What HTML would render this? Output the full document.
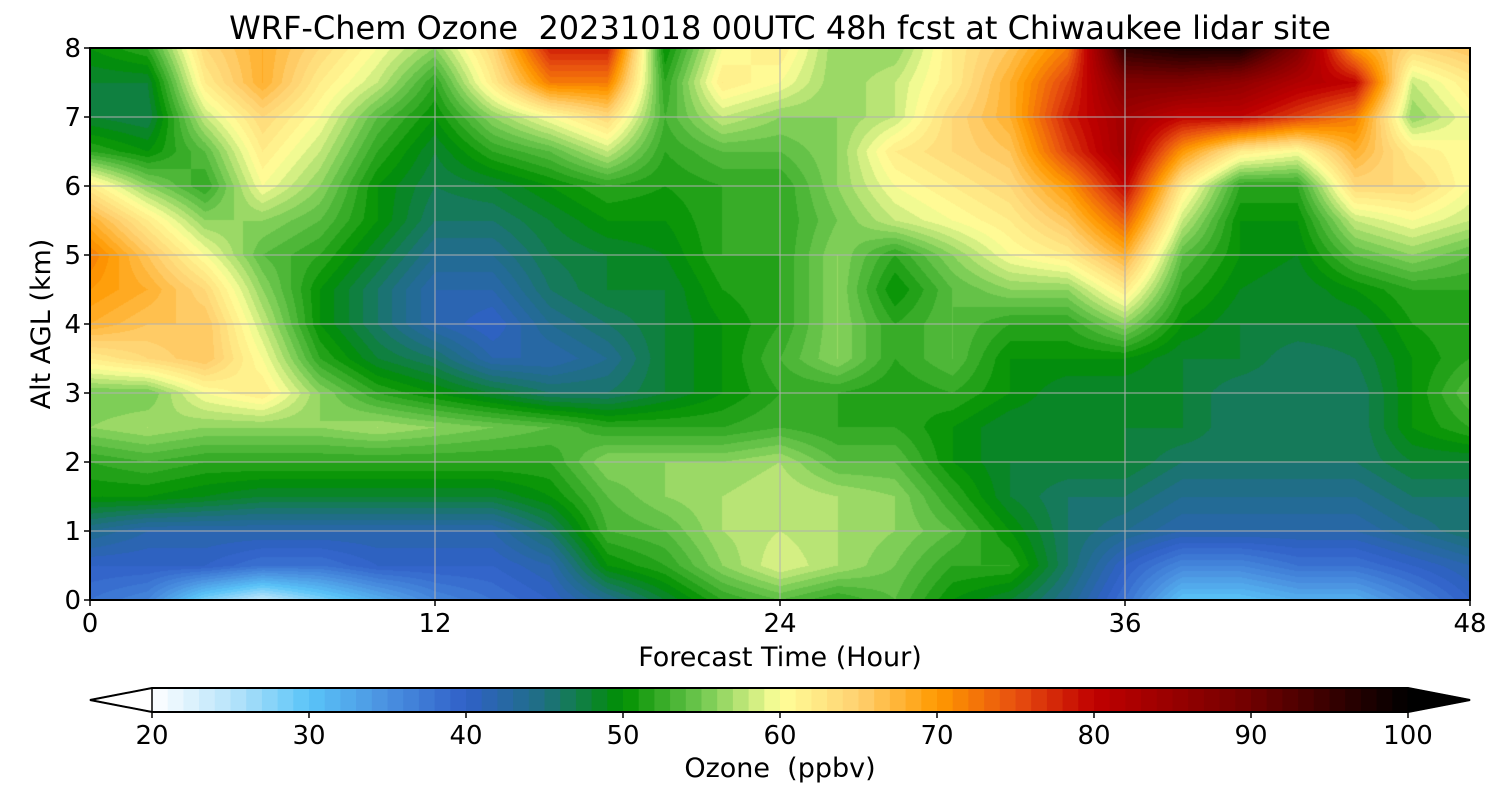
<!DOCTYPE html>
<html><head><meta charset="utf-8">
<style>
body{margin:0;background:#fff;width:1500px;height:800px;overflow:hidden;font-family:"DejaVu Sans","Liberation Sans",sans-serif;}
#root{position:relative;width:1500px;height:800px;}
canvas{position:absolute;left:0;top:0;}
svg{position:absolute;left:0;top:0;}
</style></head><body>
<div id="root">
<canvas id="cv" width="1500" height="800"></canvas>
<svg id="sv" width="1500" height="800"></svg>
</div>
<script>
// ---- data ----
const hours = [0,2,4,6,8,10,12,14,16,18,20,22,24,26,28,30,32,34,36,38,40,42,44,46,48];
const altitudes = [0,0.5,1,1.5,2,2.5,3,3.5,4,4.5,5,5.5,6,6.5,7,7.5,8];
const ozone = [
[38,40,44,50,52,56,55,62,68,70,72,68,62,52,48,48,50],
[36,40,42,50,53,57,55,64,66,68,66,62,56,50,47,48,52],
[28,40,42,49,52,56,60,66,66,64,60,56,52,54,58,62,64],
[24,38,42,48,52,56,62,60,58,56,54,56,60,62,64,68,68],
[28,38,42,48,52,56,56,52,50,50,52,54,56,58,60,62,64],
[32,40,42,48,52,57,52,48,46,46,48,50,50,52,54,58,60],
[36,40,42,48,52,56,50,46,42,42,44,46,47,48,50,52,56],
[38,40,42,48,52,55,48,42,40,42,44,46,48,52,56,62,64],
[40,42,46,50,52,54,46,42,44,46,47,48,50,54,60,72,78],
[44,50,53,54,56,52,46,44,46,48,48,50,52,58,64,72,78],
[48,52,54,56,56,52,48,48,48,48,49,50,51,52,53,52,50],
[52,56,57,57,56,52,50,50,50,51,52,52,52,54,58,62,60],
[54,59,58,58,57,53,52,53,52,52,52,52,52,54,56,60,62],
[52,57,57,57,54,52,52,56,56,56,56,55,56,56,56,56,56],
[54,55,56,56,54,52,51,52,52,50,52,58,60,62,58,58,56],
[50,52,54,52,50,50,52,54,54,54,56,60,62,64,64,62,62],
[48,52,50,48,48,48,50,50,52,56,60,62,64,66,68,68,66],
[44,46,46,46,48,48,48,50,52,56,62,66,70,76,78,76,72],
[38,40,44,46,48,48,48,50,56,62,68,74,80,84,84,88,96],
[30,36,42,44,46,48,48,48,50,52,54,58,62,70,80,88,98],
[30,36,42,44,46,46,46,48,48,49,50,50,52,62,80,86,98],
[32,38,42,44,46,46,46,46,48,48,49,50,52,60,76,82,88],
[32,38,42,44,46,46,46,47,48,50,54,58,64,68,72,80,70],
[36,40,44,46,48,50,50,50,51,52,56,60,64,62,56,58,64],
[40,42,46,46,48,52,54,52,52,52,54,58,60,60,60,62,66]
];
const xTicks = [0,12,24,36,48];
const yTicks = [0,1,2,3,4,5,6,7,8];
const cbTicks = [20,30,40,50,60,70,80,90,100];
// colormap stops
const cmVals = [20,25,30,35,40,45,50,55,60,65,70,75,80,90,100];
const cmCols = ["#ffffff","#b8e4fa","#5ac4f8","#4a90e0","#3060c8","#1e7080","#009000","#70c850","#ffff99","#ffd070","#ff9a00","#e85010","#c00000","#700000","#000000"];

// ---- geometry ----
const PX0=90,PX1=1470,PY0=48,PY1=600;
const xs = h => PX0 + (h/48)*(PX1-PX0);
const ys = a => PY1 - (a/8)*(PY1-PY0);
const CB0=152,CB1=1408,CBY0=688,CBY1=712;
const cbx = v => CB0 + (v-20)/80*(CB1-CB0);

function hex(c){return [parseInt(c.slice(1,3),16),parseInt(c.slice(3,5),16),parseInt(c.slice(5,7),16)];}
const cmRGB = cmCols.map(hex);
function color(v){
  v=Math.max(20,Math.min(100,v));
  for(let i=0;i<cmVals.length-1;i++){
    if(v<=cmVals[i+1]){
      const t=(v-cmVals[i])/(cmVals[i+1]-cmVals[i]);
      const a=cmRGB[i],b=cmRGB[i+1];
      return [a[0]+(b[0]-a[0])*t,a[1]+(b[1]-a[1])*t,a[2]+(b[2]-a[2])*t].map(Math.round);
    }
  }
  return cmRGB[cmRGB.length-1];
}
function sample(h,a){
  let i=0; while(i<hours.length-2 && h>hours[i+1]) i++;
  let j=0; while(j<altitudes.length-2 && a>altitudes[j+1]) j++;
  const tx=(h-hours[i])/(hours[i+1]-hours[i]);
  const ty=(a-altitudes[j])/(altitudes[j+1]-altitudes[j]);
  const v00=ozone[i][j],v10=ozone[i+1][j],v01=ozone[i][j+1],v11=ozone[i+1][j+1];
  return (v00*(1-tx)+v10*tx)*(1-ty)+(v01*(1-tx)+v11*tx)*ty;
}
const cv=document.getElementById('cv');
const ctx=cv.getContext('2d');
const W=PX1-PX0,H=PY1-PY0;
const img=ctx.createImageData(W,H);
for(let y=0;y<H;y++){
  const a=(H-0.5-y)/H*8;
  for(let x=0;x<W;x++){
    const h=(x+0.5)/W*48;
    const v=Math.floor(sample(h,a));
    const c=color(v+0.5);
    const k=(y*W+x)*4;
    img.data[k]=c[0];img.data[k+1]=c[1];img.data[k+2]=c[2];img.data[k+3]=255;
  }
}
ctx.putImageData(img,PX0,PY0);

// ---- svg overlay ----
const NS="http://www.w3.org/2000/svg";
const sv=document.getElementById('sv');
const FF='DejaVu Sans, Liberation Sans, sans-serif';
function mk(tag,attrs,parent){const e=document.createElementNS(NS,tag);for(const k in attrs)e.setAttribute(k,attrs[k]);(parent||sv).appendChild(e);return e;}
function txt(s,attrs){const e=mk('text',Object.assign({'font-family':FF,fill:'#000'},attrs));e.textContent=s;return e;}

// grid
xTicks.forEach(t=>{
  const l=mk('line',{x1:xs(t),x2:xs(t),y1:PY0,y2:PY1,stroke:'#b0b0b0','stroke-width':1});
  
  
});
yTicks.forEach(t=>{
  const l=mk('line',{x1:PX0,x2:PX1,y1:ys(t),y2:ys(t),stroke:'#b0b0b0','stroke-width':1});
  
  
});
// frame
const fr=mk('rect',{x:PX0,y:PY0,width:W,height:H,fill:'none',stroke:'#000','stroke-width':2});


// ticks
xTicks.forEach(t=>{
  mk('line',{x1:xs(t),x2:xs(t),y1:PY1,y2:PY1+6,stroke:'#000','stroke-width':1.5});
  const e=txt(String(t),{x:xs(t),y:632,'font-size':26,'text-anchor':'middle'});
  
  
});
yTicks.forEach(t=>{
  mk('line',{x1:PX0-6,x2:PX0,y1:ys(t),y2:ys(t),stroke:'#000','stroke-width':1.5});
  const e=txt(String(t),{x:81,y:ys(t)+9,'font-size':26,'text-anchor':'end'});
  
  
});
let e;
e=txt('WRF-Chem Ozone  20231018 00UTC 48h fcst at Chiwaukee lidar site',{x:780,y:39,'font-size':32,'text-anchor':'middle'});


e.setAttribute('xml:space','preserve');e.style.whiteSpace='pre';
e=txt('Forecast Time (Hour)',{x:780,y:666,'font-size':27,'text-anchor':'middle'});


e=txt('Alt AGL (km)',{x:0,y:0,'font-size':27,'text-anchor':'middle',transform:'translate(50,324) rotate(-90)'});



// colorbar
for(let v=20;v<100;v++){
  const c=color(v+0.5);
  const r=mk('rect',{x:cbx(v),y:CBY0,width:cbx(v+1)-cbx(v)+0.6,height:CBY1-CBY0,fill:`rgb(${c[0]},${c[1]},${c[2]})`});
  
  
}
e=mk('polygon',{points:`${CB0},${CBY0} ${CB0},${CBY1} 90,700`,fill:'#fff',stroke:'#000','stroke-width':1.5});


e=mk('polygon',{points:`${CB1},${CBY0} ${CB1},${CBY1} 1470,700`,fill:'#000',stroke:'#000','stroke-width':1.5});


e=mk('polygon',{points:`90,700 ${CB0},${CBY0} ${CB1},${CBY0} 1470,700 ${CB1},${CBY1} ${CB0},${CBY1}`,fill:'none',stroke:'#000','stroke-width':2});


cbTicks.forEach(t=>{
  mk('line',{x1:cbx(t),x2:cbx(t),y1:CBY1,y2:CBY1+6,stroke:'#000','stroke-width':1.5});
  const el=txt(String(t),{x:cbx(t),y:744,'font-size':26,'text-anchor':'middle'});
  
  
});
e=txt('Ozone  (ppbv)',{x:780,y:777,'font-size':27,'text-anchor':'middle'});


e.style.whiteSpace='pre';
</script>
</body></html>
